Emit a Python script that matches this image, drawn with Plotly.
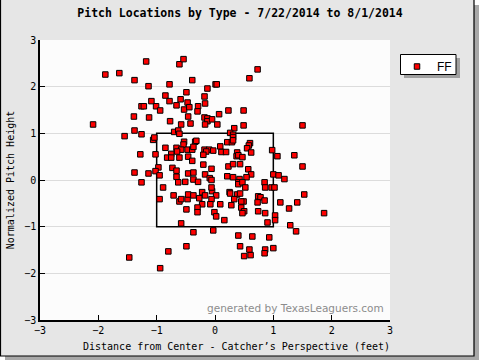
import plotly.graph_objects as go

# Pitch locations (feet from center, normalized height)
pitch_x = [
    -1.13, -1.88, -1.64, -1.18, -0.61, -0.54, -1.38, -1.14, -0.78, -0.39, -0.49, -0.85, -0.78, -0.59, -1.09, -0.47,
    -0.66, -1.26, -1.22, -1.01, -0.94, -0.53, -0.44, -0.29, -0.30, -0.46, -1.39, -1.13, -0.77, -0.42, -0.58, -2.09,
    0.73, 0.59, 0.01, 0.03, -0.13, -0.18, -0.17, 0.23, 0.49, 0.07, -0.18, -0.13, -0.13, -0.05, -0.17, 0.04, 0.33, 0.49, 1.50,
    -0.70, -0.63, -0.61, 0.26, -1.06, -1.04, 0.31, 0.31, 0.21, 0.29, 0.31, -0.53, -0.34, -0.32, -0.54, -0.85, -0.66,
    -0.58, -0.65, -0.47, -0.39, -0.37, -0.18, -0.10, -0.03, -0.15, 0.09, 0.11, 0.19, -0.20, -0.75, -0.82, -0.75, -0.61,
    -0.46, -0.39, -0.20, -0.06, -0.73, -0.66, -0.97, -1.02, -0.95, -0.66, -0.46, -0.37, -0.37, -0.51, -0.29, -0.17,
    -0.09, -0.06, 0.23, 0.31, 0.43, 0.21, 0.31, 0.42, 0.38, 0.37, 0.40,
    -0.89, -0.63, -0.95, -0.71, -0.61, -0.58, -0.47, -0.46, -0.37, -0.27, -0.22, -0.17, -0.05, -0.06, 0.02, 0.25, 0.26,
    0.38, -0.22, -0.06, -0.08, 0.09, 0.28, 0.33, -0.49, -0.30, -0.30, -0.01, 0.02, 0.16, -0.58, -0.37, -0.03, 0.40, 0.40,
    -1.38, -1.26, -1.55, -1.28, -1.02, -1.38, -1.14, -1.26, -1.47,
    -0.80, -0.49, -0.94, 0.40, 0.43,
    0.47, 0.60, 0.58, 0.55, 0.62, 0.98, 1.07, 1.36, 1.50, 0.57, 0.62, 0.54, 1.00, 1.09, 1.19, 0.47, 0.85, 0.86, 0.97,
    1.02, 0.52, 0.43, 0.74, 0.78, 0.85, 0.73, 0.49, 0.45, 0.45, 0.50, 0.47, 1.53, 1.41, 1.12, 1.27, 1.87, 0.74, 0.86,
    1.03, 1.03, 0.90, 1.29, 1.39, 0.64, 0.93, 0.59, 0.86, 0.85, 1.00, 0.50, 0.61,
]
pitch_z = [
    3.06, 2.26, 2.29, 2.54, 2.48, 2.59, 2.14, 2.01, 2.05, 2.14, 1.88, 1.81, 1.69, 1.73, 1.69, 1.66,
    1.60, 1.58, 1.58, 1.58, 1.49, 1.51, 1.56, 1.58, 1.47, 1.36, 1.36, 1.34, 1.26, 1.21, 1.19, 1.19,
    2.37, 2.18, 2.05, 2.05, 1.96, 1.79, 1.64, 1.49, 1.49, 1.41, 1.34, 1.32, 1.26, 1.30, 1.19, 1.19, 1.11, 1.17, 1.17,
    1.03, 1.06, 0.99, 1.01, 0.86, 0.91, 0.97, 0.92, 0.81, 0.81, 0.85, 0.82, 0.82, 0.84, 0.76, 0.69, 0.69,
    0.65, 0.61, 0.65, 0.65, 0.71, 0.65, 0.65, 0.63, 0.61, 0.72, 0.60, 0.60, 0.54, 0.56, 0.48, 0.48, 0.48,
    0.50, 0.41, 0.33, 0.24, 0.26, 0.20, 0.27, 0.19, 0.10, 0.07, 0.14, 0.16, 0.01, -0.04, -0.04, 0.12,
    0.04, 0.00, 0.29, 0.34, 0.34, 0.08, 0.06, 0.02, 0.59, 0.51, 0.53,
    -0.16, -0.05, -0.41, -0.33, -0.46, -0.41, -0.41, -0.31, -0.33, -0.39, -0.26, -0.33, -0.24, -0.16, -0.33, -0.26, -0.29,
    -0.31, -0.52, -0.41, -0.52, -0.52, -0.54, -0.41, -0.63, -0.59, -0.69, -0.69, -0.78, -0.86, -0.93, -1.12, -1.08, -0.05, -0.09,
    1.06, 0.98, 0.94, 0.55, 0.55, 0.16, 0.14, -0.05, -1.66,
    -1.53, -1.42, -1.89, -1.19, -1.42,
    0.49, 0.79, 0.74, 0.68, 0.59, 0.64, 0.51, 0.53, 0.29, 0.23, 0.12, 0.06, 0.12, 0.10, 0.02, -0.05, -0.05, -0.16, -0.16,
    -0.16, -0.16, -0.29, -0.35, -0.37, -0.44, -0.48, -0.46, -0.46, -0.59, -0.67, -0.71, -0.31, -0.48, -0.48, -0.61, -0.71, -0.67, -0.71,
    -0.76, -0.86, -0.91, -0.97, -1.10, -1.21, -1.23, -1.49, -1.49, -1.57, -1.46, -1.63, -1.61,
]
pitch_type = "FF"
zone_x = [-1.0, 1.0]
zone_z = [-1.0, 1.0]
tick_vals = [-3, -2, -1, 0, 1, 2, 3]

title_text = "Pitch Locations by Type - 7/22/2014 to 8/1/2014"
x_title = "Distance from Center - Catcher\u2019s Perspective (feet)"
y_title = "Normalized Pitch Height"
credit = "generated by TexasLeaguers.com"

MONO = "DejaVu Sans Mono"

fig = go.Figure()
fig.add_trace(go.Scatter(
    x=pitch_x, y=pitch_z, mode="markers", name=pitch_type, cliponaxis=False,
    marker=dict(symbol="square", size=5.5, color="#ff0000",
                line=dict(color="#000000", width=1)),
))

# strike zone
fig.add_shape(type="rect", xref="x", yref="y",
              x0=zone_x[0], x1=zone_x[1], y0=zone_z[0], y1=zone_z[1],
              line=dict(color="#000000", width=1.5), layer="between")

# plot-area conversions for frame decorations (plot area: 40..390 px, 40..320 px)
def px(v):
    return (v - 40) / 350.0

def py(v):
    return (320 - v) / 280.0

# outer frame shadow + frame (top edge runs off the page)
fig.add_shape(type="rect", xref="paper", yref="paper",
              x0=px(5), x1=px(479), y0=py(361), y1=py(5),
              fillcolor="#a8a8a8", line=dict(width=0), layer="below")
fig.add_shape(type="rect", xref="paper", yref="paper",
              x0=px(0.5), x1=px(474), y0=py(356), y1=py(-3),
              fillcolor="#e6e6e6", line=dict(color="#000000", width=1.2), layer="below")
# white plot area
fig.add_shape(type="rect", xref="paper", yref="paper",
              x0=0, x1=1, y0=0, y1=1,
              fillcolor="#fcfcfc", line=dict(width=0), layer="below")
# legend shadow + legend box
fig.add_shape(type="rect", xref="paper", yref="paper",
              x0=px(404), x1=px(460), y0=py(78), y1=py(58),
              fillcolor="#a0a0a0", line=dict(width=0), layer="below")
fig.add_shape(type="rect", xref="paper", yref="paper",
              x0=px(400.5), x1=px(456), y0=py(74.5), y1=py(54.5),
              fillcolor="#ffffff", line=dict(color="#000000", width=1), layer="below")

fig.add_annotation(text=credit, xref="paper", yref="paper",
                   x=px(386), y=py(308), xanchor="right", yanchor="middle",
                   showarrow=False, font=dict(family="DejaVu Sans", size=10.5, color="#8c8c8c"))
# x-axis title (centred slightly right of the plot centre, as in the original)
fig.add_annotation(text=x_title, xref="paper", yref="paper",
                   x=px(236), y=py(346), xanchor="center", yanchor="middle",
                   showarrow=False, font=dict(family=MONO, size=10, color="#000000"))

fig.update_layout(
    width=480, height=360,
    margin=dict(l=40, r=90, t=40, b=40, autoexpand=False),
    paper_bgcolor="rgba(0,0,0,0)",
    plot_bgcolor="rgba(0,0,0,0)",
    title=dict(text=title_text, x=0.5, xref="container", xanchor="center",
               y=1 - 13 / 360, yref="container", yanchor="middle", automargin=False,
               font=dict(family=MONO, size=11.5, color="#000000", weight="bold")),
    showlegend=True,
    legend=dict(x=px(397), y=py(52), xanchor="left", yanchor="top",
                bgcolor="rgba(0,0,0,0)", borderwidth=0,
                font=dict(family="Liberation Sans", size=12, color="#000000"),
                itemwidth=30),
    font=dict(family=MONO, size=10, color="#000000"),
    xaxis=dict(range=[-3, 3], tickvals=tick_vals, showgrid=False, zeroline=False,
               showline=True, linecolor="#000000", linewidth=1.5, automargin=False,
               ticks="inside", ticklen=5, tickcolor="#000000"),
    yaxis=dict(range=[-3, 3], tickvals=tick_vals, showgrid=True, gridcolor="#dcdcdc", gridwidth=1,
               zeroline=False, showline=True, linecolor="#000000", linewidth=1.5, automargin=False,
               ticks="inside", ticklen=5, tickcolor="#000000",
               title=dict(text=y_title, standoff=8, font=dict(family=MONO, size=10))),
)

fig.write_html("out.html", config={"displayModeBar": False},
               post_script="document.body.style.margin='0';")
